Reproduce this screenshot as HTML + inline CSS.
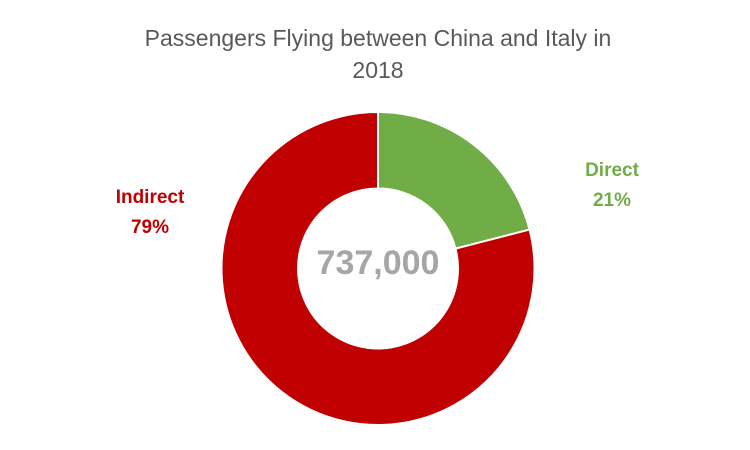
<!DOCTYPE html>
<html><head><meta charset="utf-8">
<style>
body{margin:0;background:#fff;}
svg{display:block;font-family:"Liberation Sans",Calibri,sans-serif;}
</style></head>
<body>
<svg id="chart" width="750" height="450">
  <text x="378" y="46" text-anchor="middle" font-size="23" fill="#595959">Passengers Flying between China and Italy in</text>
  <text x="378" y="78" text-anchor="middle" font-size="23" fill="#595959">2018</text>
  <g id="slices"></g>
  <text x="378" y="274" text-anchor="middle" font-size="34" font-weight="bold" fill="#a6a6a6">737,000</text>
  <text x="612" y="176" text-anchor="middle" font-size="19" font-weight="bold" fill="#70ad47">Direct</text>
  <text x="612" y="206" text-anchor="middle" font-size="19" font-weight="bold" fill="#70ad47">21%</text>
  <text x="150" y="203" text-anchor="middle" font-size="19" font-weight="bold" fill="#c00000">Indirect</text>
  <text x="150" y="233" text-anchor="middle" font-size="19" font-weight="bold" fill="#c00000">79%</text>
</svg>
<script>
const categories = ["Direct", "Indirect"];
const values = [21, 79];
const colors = ["#70ad47", "#c00000"];
const cx = 378, cy = 268.5, R = 156.5, r = 80;
const g = document.getElementById('slices');
const total = values.reduce((a,b)=>a+b,0);
let start = 0;
function pt(rad, a){ return [cx + rad*Math.sin(a), cy - rad*Math.cos(a)]; }
values.forEach((v,i)=>{
  const a0 = start/total*2*Math.PI, a1 = (start+v)/total*2*Math.PI;
  start += v;
  const large = (a1-a0) > Math.PI ? 1 : 0;
  const [x0,y0]=pt(R,a0),[x1,y1]=pt(R,a1),[x2,y2]=pt(r,a1),[x3,y3]=pt(r,a0);
  const p = document.createElementNS('http://www.w3.org/2000/svg','path');
  p.setAttribute('d',`M${x0},${y0} A${R},${R} 0 ${large} 1 ${x1},${y1} L${x2},${y2} A${r},${r} 0 ${large} 0 ${x3},${y3} Z`);
  p.setAttribute('fill',colors[i]);
  p.setAttribute('stroke','#fff');
  p.setAttribute('stroke-width','2');
  
  
  g.appendChild(p);
});
</script>
</body></html>
